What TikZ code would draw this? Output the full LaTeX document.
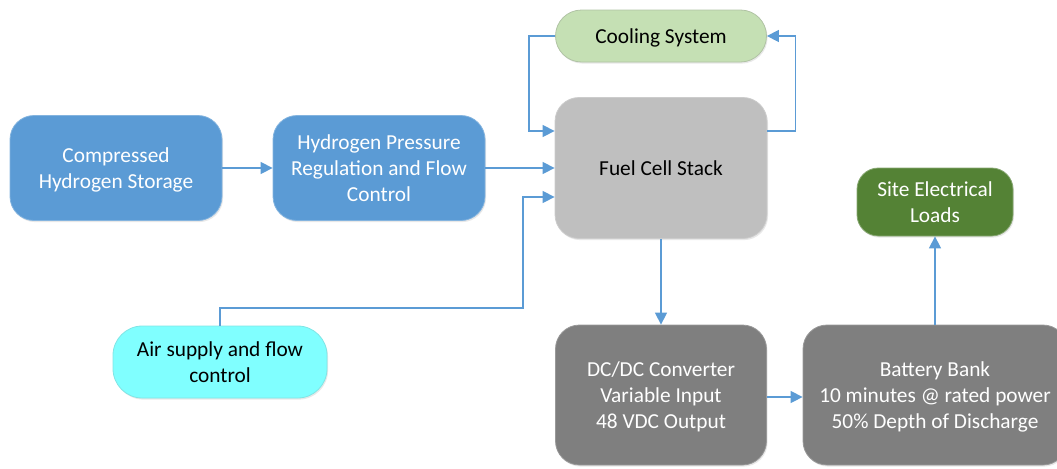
\documentclass[tikz,border=0pt]{standalone}
\usepackage{fontspec}
\setmainfont{Carlito}
\usetikzlibrary{arrows.meta,shadows,calc}

\definecolor{flowblue}{HTML}{5B9BD5}
\definecolor{stackgray}{HTML}{BFBFBF}
\definecolor{coolgreen}{HTML}{C5E0B4}
\definecolor{loadgreen}{HTML}{548235}
\definecolor{aircyan}{HTML}{80FFFF}
\definecolor{powergray}{HTML}{7F7F7F}

\tikzset{
  blk/.style={rectangle, rounded corners=18pt, align=center, inner sep=0pt,
    font=\fontsize{16pt}{19.5pt}\selectfont, line width=0.6pt, text depth=-0.8pt,
    drop shadow={opacity=0.18, shadow xshift=0.8pt, shadow yshift=-1.2pt}},
  h2blk/.style={blk, fill=flowblue, draw=flowblue!75!white, text=white,
    minimum width=159pt, minimum height=78.75pt},
  stackblk/.style={blk, fill=stackgray, draw=stackgray!80!white, text=black,
    minimum width=159pt, minimum height=105.75pt},
  coolblk/.style={blk, rounded corners=19.5pt, fill=coolgreen, draw=coolgreen!70!gray,
    text=black, minimum width=158.25pt, minimum height=39pt},
  loadblk/.style={blk, rounded corners=16pt, fill=loadgreen, draw=loadgreen!70!white,
    text=white, minimum width=117pt, minimum height=51pt},
  airblk/.style={blk, rounded corners=22pt, fill=aircyan, draw=aircyan!80!gray,
    text=black, minimum width=160.5pt, minimum height=54pt},
  pwrblk/.style={blk, fill=powergray, draw=powergray!80!white, text=white,
    minimum height=105pt, text depth=-4.5pt},
  flow/.style={draw=flowblue, line width=1.1pt,
    -{Triangle[length=9pt,width=9pt]}},
}

\begin{document}
\begin{tikzpicture}[x=0.75pt,y=-0.75pt]
\useasboundingbox (0,0) rectangle (1057,468);
\clip (0,0) rectangle (1057,468);

% blocks
\node[h2blk] (store) at (116,168) {Compressed\\Hydrogen Storage};
\node[h2blk] (reg) at (379,168) {Hydrogen Pressure\\Regulation and Flow\\Control};
\node[stackblk, text depth=0pt] (stack) at (661,168) {Fuel Cell Stack};
\node[coolblk] (cool) at (661,36) {Cooling System};
\node[airblk] (air) at (220,362) {Air supply and flow\\control};
\node[pwrblk, minimum width=158.25pt] (dcdc) at (661,395)
  {DC/DC Converter\\Variable Input\\48 VDC Output};
\node[pwrblk, minimum width=198pt] (batt) at (935,395)
  {Battery Bank\\10 minutes @ rated power\\50\% Depth of Discharge};
\node[loadblk] (load) at (935,202) {Site Electrical\\Loads};

% hydrogen path
\draw[flow] (store.east) -- (reg.west);
\draw[flow] (reg.east) -- (stack.west);

% cooling loop
\draw[flow] (cool.west) -- ++(-26,0) |- ($(stack.west)+(0,-37)$);
\draw[flow] ($(stack.east)+(0,-37)$) -- ++(28,0) |- (cool.east);

% air feed
\draw[flow] (air.north) |- (523,308) |- ($(stack.west)+(0,29)$);

% electrical path
\draw[flow] (stack.south) -- (dcdc.north);
\draw[flow] ($(dcdc.east)+(0,2)$) -- ($(batt.west)+(0,2)$);
\draw[flow] (batt.north) -- (load.south);
\end{tikzpicture}
\end{document}
